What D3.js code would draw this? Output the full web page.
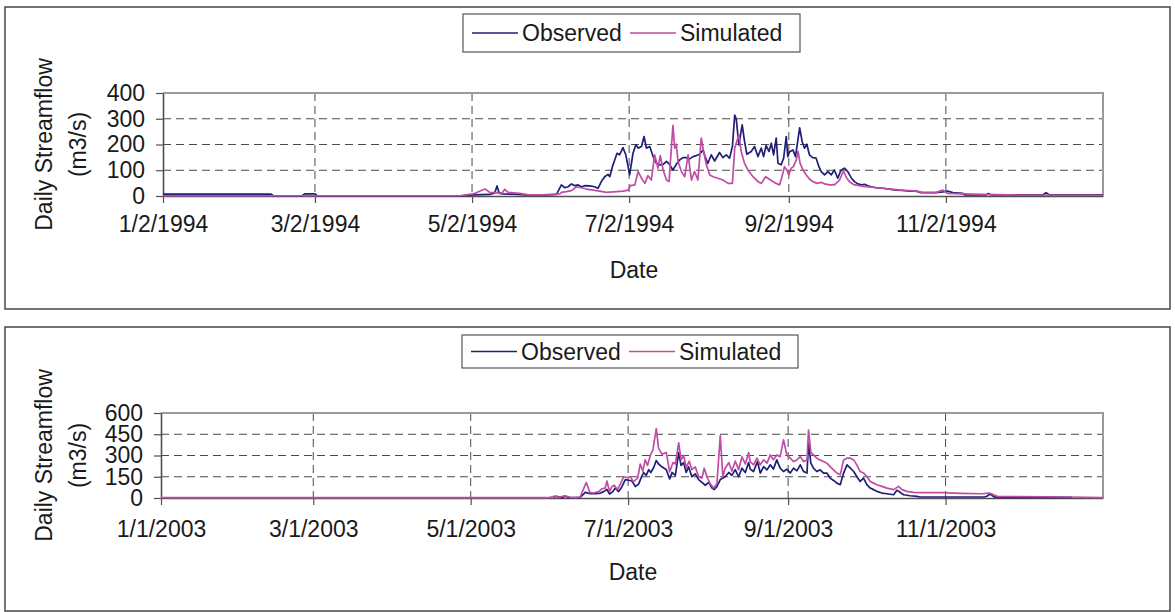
<!DOCTYPE html>
<html><head><meta charset="utf-8">
<script src="https://cdn.jsdelivr.net/npm/d3@7"></script>
<style>
html,body{margin:0;padding:0;background:#fff;}
svg{display:block;font-family:"Liberation Sans",Arial,sans-serif;}
</style>
</head><body>
<svg id="chart" width="1175" height="612"></svg>
<script>
// ---------------- DATA ----------------
const seriesNames = ["Observed", "Simulated"];
const yTitleLines = ["Daily Streamflow", "(m3/s)"];
const xTitle = "Date";

// 1994 panel
const range1994 = ["1/2/1994", "1/2/1995"];
const xTicks1994 = ["1/2/1994", "3/2/1994", "5/2/1994", "7/2/1994", "9/2/1994", "11/2/1994"];
const yTicks1994 = [0, 100, 200, 300, 400];
// days after 1/2/1994
const obs1994Day = [0,42,43,54,55,59,60,115,120.4,126.9,128.8,129.7,130.5,132.1,136,141,147.6,152.8,154.7,156,157.3,158.6,159.9,161.2,162.5,163.8,165.7,167.6,168.9,170.2,171.5,172.8,173.5,174.5,175.4,176.3,177.3,178.6,179.7,180.6,181.2,182.5,183.6,184.5,185.8,186.8,187.7,189,190.3,191.6,192.9,194.2,195.5,196.7,198,199.3,200.6,201.9,203.2,204.5,205.8,207.1,208.4,209.7,210.7,211.6,212.9,214.2,216.1,217.4,218.7,220,221.1,222,222.6,223.6,224.9,225.8,226.7,228.4,229.7,231,232.3,233.2,234.2,235.3,236.2,237.1,238.1,238.8,240,241,242,242.6,243.3,244.6,245.6,247.2,248.2,249.1,250,251,252.3,253.6,254.7,255.6,256.9,258.2,259.5,260.7,262,263.3,264.6,265.9,267.2,268.5,269.8,271.1,272.4,273.7,275,276.9,279.5,282.1,284.7,287.3,289.8,292.4,294.4,300.2,302.8,304.7,306.7,310.6,311.2,319.6,320.5,321.6,341.6,342.9,344.2,365];
const obs1994Val = [7,7,0,0,8,8,0,0,4,6,12,39,12,8,7,4,3,6,43,32,36,47,40,43,36,40,39,36,30,56,75,84,75,114,140,166,160,188,160,114,82,166,199,186,192,231,186,192,153,127,121,123,134,123,101,123,140,149,149,144,153,157,162,179,147,127,160,136,169,149,160,147,192,314,299,198,276,213,162,173,192,153,186,153,196,173,205,160,225,127,121,147,231,153,172,179,153,265,211,186,201,160,149,147,114,95,82,95,82,101,69,101,108,95,71,56,47,43,45,40,36,32,30,27,23,22,19,19,13,13,16,19,13,10,4,4,10,4,4,13,4,4];
const sim1994Day = [0,115.3,120.4,125,126.9,129.5,131.4,132.7,134,138.5,142.4,147.6,154.1,154.7,156.6,158.6,160.5,162.5,164.4,167,169.6,172.2,176.1,178.6,180.6,181.5,183.2,184.5,185.8,187.1,188.3,189.6,190.9,192.2,193.1,194.2,195.5,196.5,198,198.7,199.3,200,201.3,202.6,203.9,205.2,206.4,207.7,209,209.9,211,212.3,213.6,215.5,217.4,219.4,221.1,222,223.6,224.5,225.8,227.1,229.1,231,232.3,234,235.3,236.8,238.1,239.4,240.7,241.3,242.2,243,243.9,244.8,245.9,246.6,247.4,248.5,249.8,251,252.3,253.9,255.6,256.9,258.8,260.7,262.7,264.2,265.5,266.8,268.5,270.4,272.4,274.3,276.9,279.5,282.1,284.7,287.3,289.8,292.4,295,300,302.8,304.7,310.6,318.3,328.7,365];
const sim1994Val = [1,1,8,27,14,13,8,26,14,10,4,4,8,14,17,21,36,32,27,23,19,14,17,19,23,40,43,95,69,49,79,62,160,108,157,101,62,56,274,186,201,134,95,75,160,62,95,62,225,173,121,82,75,69,62,49,49,186,238,173,127,101,75,56,49,75,66,56,49,43,88,114,101,82,108,114,140,173,127,101,82,66,56,49,53,47,43,43,62,97,69,53,43,40,36,35,32,30,27,25,22,21,19,14,13,23,10,8,6,4,3];

// 2003 panel
const range2003 = ["1/1/2003", "1/1/2004"];
const xTicks2003 = ["1/1/2003", "3/1/2003", "5/1/2003", "7/1/2003", "9/1/2003", "11/1/2003"];
const yTicks2003 = [0, 150, 300, 450, 600];
// days after 1/1/2003
const obs2003Day = [152,153.3,155.3,156.5,157.8,159.8,162.4,164.4,166.3,168.3,170.2,171.5,172.8,173.8,175.1,176,177.3,178.6,179.9,181.2,182.5,183.8,185.1,186,187,188,189,189.8,190.9,191.9,192.8,194.1,195.8,197.1,198,199.3,200.6,201.5,202.5,203.5,204.4,205.7,207,208.3,209.6,210.9,212.2,213.5,214.4,215.4,216.7,218.6,220,221.2,222.5,223.8,225.1,226.4,227.7,228.3,229.6,231.1,232.2,233.5,234.8,236.1,237.3,238.6,239.9,241.2,242.5,243.8,245.1,246.4,247.7,249,250.3,250.9,251.8,252.8,254.1,255.4,256.7,258,259.3,260.6,261.9,263.2,264.5,265.8,267.1,268.4,269.6,270.9,272.2,273.5,274.8,276.1,277.4,279.3,281.3,283.9,285.1,286.4,287.7,290.3,292.9,294.2,319,320,321.3,322.6,324,353];
const obs2003Val = [5,12,2,12,5,2,5,40,30,30,35,45,60,28,45,70,45,80,130,125,120,80,100,140,180,160,200,180,215,265,240,220,200,135,180,160,320,230,250,180,220,150,170,130,110,90,110,70,60,80,130,150,180,160,200,150,210,180,250,204,187,257,176,222,199,234,204,269,211,187,204,176,211,192,234,187,176,386,246,211,187,199,176,176,140,124,105,94,176,234,211,187,152,117,140,94,70,59,47,35,30,23,54,40,23,16,12,7,7,12,28,10,5,5];
const sim2003Day = [0,150,152.7,154,156.5,158.5,160.4,162.4,164.8,166.1,167.6,169.6,170.8,172.1,172.8,173.8,174.7,175.6,176.9,178,179.3,180.5,181.8,183.1,184.7,185.7,186.7,187.6,188.5,189.6,190.6,191.9,192.8,194.1,195.8,197.1,198.4,199.3,200.6,201.5,202.5,203.5,204.7,205.7,207,208.3,209.6,210.5,211.5,212.8,214.1,215.4,216.7,217.7,218.6,220,221.2,222.5,223.8,225.1,226.4,227.7,228.3,229.6,230.9,232.2,233.5,234.8,236.1,237.3,238.6,239.9,241.2,242.5,243.8,245.1,246.4,247.7,249,250.3,250.9,251.8,252.8,254.1,255.4,256.7,258,259.3,260.6,261.9,263.2,264.5,265.8,267.1,268.4,269.6,270.9,272.2,273.5,274.8,276.1,277.4,279.3,281.3,283.9,285.8,287.1,289,291.6,294.2,303,310,318,321,324,352,365];
const sim2003Val = [2,2,14,5,16,5,2,7,110,40,35,45,65,70,120,45,80,90,60,100,150,145,150,115,140,240,190,270,230,300,340,490,350,310,320,185,250,240,390,270,300,215,260,200,220,150,140,210,150,100,70,100,440,150,210,250,190,260,200,290,240,320,257,234,281,234,269,246,304,269,304,292,410,304,281,257,269,292,257,269,480,322,304,281,269,257,246,222,199,176,164,269,281,281,269,234,187,176,152,117,105,94,82,70,59,82,59,47,40,38,38,33,30,35,12,7,2];

// ---------------- DRAWING ----------------
const svg = d3.select("#chart");
const parse = d3.utcParse("%m/%d/%Y");
const COL_OBS = "#1f1f78";
const COL_SIM = "#c24ba4";
const FONT = 23;

function toPoints(start, days, vals) {
  return days.map((d, i) => ({ t: new Date(start.getTime() + d * 864e5), v: vals[i] }));
}

function panel(cfg) {
  const g = svg.append("g");
  const b = cfg.box;
  g.append("rect").attr("x", b[0]).attr("y", b[1]).attr("width", b[2]).attr("height", b[3])
    .attr("fill", "#fff").attr("stroke", "#3a3a3a").attr("stroke-width", 1.4);

  const dom = cfg.range.map(parse);
  const x = d3.scaleUtc().domain(dom).range([cfg.x0, cfg.x1]);
  const y = d3.scaleLinear().domain([0, cfg.yTicks[cfg.yTicks.length - 1]]).range([cfg.y1, cfg.y0]);
  const tickDates = cfg.xTicks.map(parse);

  // horizontal dashed grid
  g.append("g").selectAll("line").data(cfg.yTicks.slice(1, -1)).join("line")
    .attr("x1", cfg.x0).attr("x2", cfg.x1).attr("y1", d => y(d)).attr("y2", d => y(d))
    .attr("stroke", "#4a4a4a").attr("stroke-width", 1).attr("stroke-dasharray", "8,5");
  // vertical dashed grid
  g.append("g").selectAll("line").data(tickDates.slice(1)).join("line")
    .attr("x1", d => x(d)).attr("x2", d => x(d)).attr("y1", cfg.y0).attr("y2", cfg.y1)
    .attr("stroke", "#4a4a4a").attr("stroke-width", 1).attr("stroke-dasharray", "8,5");
  // plot border top & right
  g.append("path").attr("d", `M${cfg.x0},${cfg.y0}H${cfg.x1}V${cfg.y1}`)
    .attr("fill", "none").attr("stroke", "#9a9a9a").attr("stroke-width", 2);

  // axes
  const ya = g.append("g").attr("transform", `translate(${cfg.x0},0)`)
    .call(d3.axisLeft(y).tickValues(cfg.yTicks).tickSize(7).tickPadding(11).tickSizeOuter(0));
  const xa = g.append("g").attr("transform", `translate(0,${cfg.y1})`)
    .call(d3.axisBottom(x).tickValues(tickDates).tickFormat((d, i) => cfg.xTicks[i]).tickSize(7).tickPadding(cfg.xPad).tickSizeOuter(0));
  [ya, xa].forEach(a => {
    a.select(".domain").attr("stroke", "#505050").attr("stroke-width", 1.6);
    a.selectAll(".tick line").attr("stroke", "#505050").attr("stroke-width", 1.2);
    a.selectAll("text").attr("font-size", FONT).attr("fill", "#1a1a1a")
      .attr("font-family", "'Liberation Sans',Arial,sans-serif");
  });

  // lines
  const line = d3.line().x(d => x(d.t)).y(d => y(d.v));
  const start = dom[0];
  g.append("path").datum(toPoints(start, cfg.obsDay, cfg.obsVal)).attr("d", line)
    .attr("fill", "none").attr("stroke", COL_OBS).attr("stroke-width", 1.7).attr("stroke-linejoin", "round");
  g.append("path").datum(toPoints(start, cfg.simDay, cfg.simVal)).attr("d", line)
    .attr("fill", "none").attr("stroke", COL_SIM).attr("stroke-width", 1.7).attr("stroke-linejoin", "round");

  // axis titles
  const yc = (cfg.y0 + cfg.y1) / 2;
  g.append("text").attr("transform", `translate(${cfg.yt1},${yc}) rotate(-90)`)
    .attr("text-anchor", "middle").attr("font-size", FONT).attr("fill", "#1a1a1a").text(yTitleLines[0]);
  g.append("text").attr("transform", `translate(${cfg.yt2},${yc}) rotate(-90)`)
    .attr("text-anchor", "middle").attr("font-size", FONT).attr("fill", "#1a1a1a").text(yTitleLines[1]);
  g.append("text").attr("x", (cfg.x0 + cfg.x1) / 2 + 1).attr("y", cfg.xTitleY)
    .attr("text-anchor", "middle").attr("font-size", FONT).attr("fill", "#1a1a1a").text(xTitle);

  // legend
  const L = cfg.legend;
  g.append("rect").attr("x", L[0]).attr("y", L[1]).attr("width", L[2]).attr("height", L[3])
    .attr("fill", "#fff").attr("stroke", "#555").attr("stroke-width", 1.2);
  const ly = L[1] + L[3] / 2;
  const items = [
    { name: seriesNames[0], col: COL_OBS, lx: L[0] + 9 },
    { name: seriesNames[1], col: COL_SIM, lx: L[0] + 167 }
  ];
  items.forEach(it => {
    g.append("line").attr("x1", it.lx).attr("x2", it.lx + 46).attr("y1", ly).attr("y2", ly)
      .attr("stroke", it.col).attr("stroke-width", 1.5);
    g.append("text").attr("x", it.lx + 50).attr("y", ly + 8).attr("font-size", FONT)
      .attr("fill", "#1a1a1a").text(it.name);
  });
}

panel({
  box: [5, 7, 1165, 302], legend: [463, 14, 337, 38],
  x0: 163, x1: 1103, y0: 93, y1: 196,
  range: range1994, xTicks: xTicks1994, yTicks: yTicks1994, xPad: 13,
  obsDay: obs1994Day, obsVal: obs1994Val, simDay: sim1994Day, simVal: sim1994Val,
  yt1: 52, yt2: 86, xTitleY: 278
});
panel({
  box: [5, 327, 1165, 284], legend: [462, 335, 336, 33],
  x0: 161, x1: 1103, y0: 413, y1: 498,
  range: range2003, xTicks: xTicks2003, yTicks: yTicks2003, xPad: 16,
  obsDay: obs2003Day, obsVal: obs2003Val, simDay: sim2003Day, simVal: sim2003Val,
  yt1: 52, yt2: 86, xTitleY: 580
});
</script>
</body></html>
